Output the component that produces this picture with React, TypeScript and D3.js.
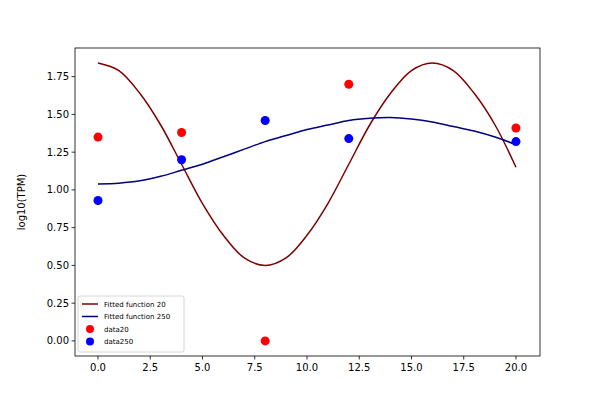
import React, { useEffect, useRef } from 'react';
import * as d3 from 'd3';

const fitX = d3.range(0, 21);
const fit20 = [1.84, 1.79, 1.64, 1.43, 1.17, 0.91, 0.7, 0.55, 0.5, 0.55, 0.7, 0.91, 1.17, 1.43, 1.64, 1.79, 1.84, 1.79, 1.64, 1.43, 1.15];
const fit250 = [1.04, 1.045, 1.06, 1.09, 1.13, 1.17, 1.22, 1.27, 1.32, 1.36, 1.4, 1.43, 1.46, 1.475, 1.48, 1.47, 1.45, 1.42, 1.39, 1.35, 1.3];
const dataX = [0, 4, 8, 12, 20];
const data20 = [1.35, 1.38, 0, 1.7, 1.41];
const data250 = [0.93, 1.2, 1.46, 1.34, 1.32];
const xTicks = [0, 2.5, 5, 7.5, 10, 12.5, 15, 17.5, 20];
const yTicks = [0, 0.25, 0.5, 0.75, 1, 1.25, 1.5, 1.75];

const App: React.FC = () => {
  const ref = useRef<SVGSVGElement>(null);
  useEffect(() => {
    const svg = d3.select(ref.current!);
    svg.selectAll('*').remove();
    const L = 75, R = 540, T = 48, B = 356;
    const x = d3.scaleLinear().domain([-1.1, 21.15]).range([L, R]);
    const y = d3.scaleLinear().domain([-0.1, 1.94]).range([B, T]);
    const font = 'DejaVu Sans, sans-serif';

    const line = d3.line<number>().x((_, i) => x(fitX[i])).y(d => y(d)).curve(d3.curveCatmullRom);
    svg.append('path').attr('d', line(fit20)!).attr('fill', 'none').attr('stroke', '#800000').attr('stroke-width', 1.5);
    svg.append('path').attr('d', line(fit250)!).attr('fill', 'none').attr('stroke', '#000080').attr('stroke-width', 1.5);
    data20.forEach((v, i) => svg.append('circle').attr('cx', x(dataX[i])).attr('cy', y(v)).attr('r', 4.5).attr('fill', 'red'));
    data250.forEach((v, i) => svg.append('circle').attr('cx', x(dataX[i])).attr('cy', y(v)).attr('r', 4.5).attr('fill', 'blue'));

    svg.append('rect').attr('x', L).attr('y', T).attr('width', R - L).attr('height', B - T).attr('fill', 'none').attr('stroke', 'black').attr('stroke-width', 0.8);

    xTicks.forEach(t => {
      svg.append('line').attr('x1', x(t)).attr('x2', x(t)).attr('y1', B).attr('y2', B + 3.5).attr('stroke', 'black').attr('stroke-width', 0.8);
      svg.append('text').attr('x', x(t)).attr('y', B + 15).attr('text-anchor', 'middle').attr('font-size', 10).attr('font-family', font).text(t.toFixed(1));
    });
    yTicks.forEach(t => {
      svg.append('line').attr('x1', L - 3.5).attr('x2', L).attr('y1', y(t)).attr('y2', y(t)).attr('stroke', 'black').attr('stroke-width', 0.8);
      svg.append('text').attr('x', L - 6).attr('y', y(t) + 3.5).attr('text-anchor', 'end').attr('font-size', 10).attr('font-family', font).text(t.toFixed(2));
    });
    svg.append('text').attr('transform', `translate(25,${(T + B) / 2}) rotate(-90)`).attr('text-anchor', 'middle').attr('font-size', 10).attr('font-family', font).text('log10(TPM)');

    const lg = svg.append('g').attr('transform', 'translate(78,296)');
    lg.append('rect').attr('width', 106).attr('height', 56).attr('rx', 2).attr('fill', 'white').attr('fill-opacity', 0.8).attr('stroke', '#ccc').attr('stroke-width', 0.8);
    const items = [
      { label: 'Fitted function 20', color: '#800000', kind: 'line' },
      { label: 'Fitted function 250', color: '#000080', kind: 'line' },
      { label: 'data20', color: 'red', kind: 'dot' },
      { label: 'data250', color: 'blue', kind: 'dot' },
    ];
    items.forEach((it, i) => {
      const cy = 8 + i * 12.5;
      if (it.kind === 'line') lg.append('line').attr('x1', 4).attr('x2', 20).attr('y1', cy).attr('y2', cy).attr('stroke', it.color).attr('stroke-width', 1.5);
      else lg.append('circle').attr('cx', 12).attr('cy', cy).attr('r', 4).attr('fill', it.color);
      lg.append('text').attr('x', 26).attr('y', cy + 2.5).attr('font-size', 7).attr('font-family', font).text(it.label);
    });
  }, []);
  return <svg ref={ref} width={600} height={400} style={{ position: 'absolute', left: 0, top: 0, background: 'white' }} />;
};

export default App;
